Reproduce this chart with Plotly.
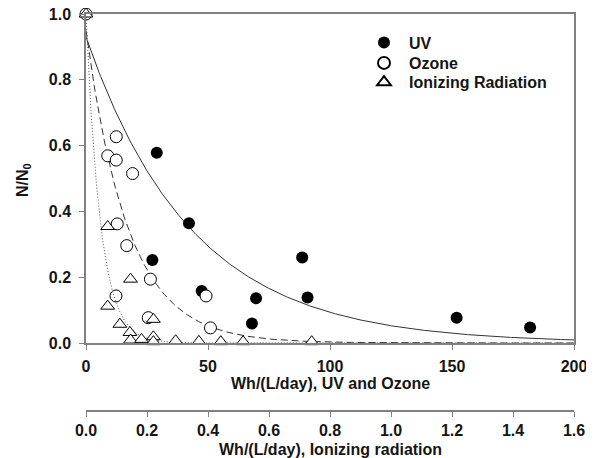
import numpy as np
import plotly.graph_objects as go

# ---- data ----
uv_x = [27.2, 29.0, 42.2, 47.4, 68.0, 69.7, 88.6, 90.8, 151.9, 182.0]
uv_y = [0.252, 0.578, 0.364, 0.158, 0.059, 0.136, 0.260, 0.138, 0.077, 0.047]

ozone_x = [0, 8.9, 12.4, 12.4, 19.1, 12.8, 16.7, 26.4, 12.3, 49.2, 25.5, 51.0]
ozone_y = [1.0, 0.569, 0.627, 0.556, 0.515, 0.362, 0.296, 0.194, 0.143, 0.143, 0.077, 0.046]

ion_x = [0, 0.071, 0.146, 0.071, 0.111, 0.144, 0.146, 0.182, 0.221, 0.221, 0.221,
         0.294, 0.370, 0.442, 0.515, 0.740]
ion_y = [1.0, 0.354, 0.194, 0.112, 0.057, 0.032, 0.009, 0.011, 0.072, 0.019, 0.004,
         0.007, 0.005, 0.004, 0.004, 0.004]

# fitted first-order decay curves  N/N0 = a*exp(-k*dose)
uv_fit = (0.93, 0.023)        # per Wh/(L/day)
ozone_fit = (0.95, 0.058)
ion_fit = (1.0, 21.25)        # per Wh/(L/day), ionizing axis

x_ticks_top = [0, 50, 100, 150, 200]
x_ticks_bot = [0.0, 0.2, 0.4, 0.6, 0.8, 1.0, 1.2, 1.4, 1.6]
y_ticks = [0.0, 0.2, 0.4, 0.6, 0.8, 1.0]

# ---- layout geometry (page has an 8px body margin) ----
OFF = 8
W, H = 594 - OFF, 458 - OFF
left_px, right_px = 86 - OFF, 574 - OFF
top_px, base_px, zero_px = 14 - OFF, 411 - OFF, 343 - OFF
plot_w, plot_h = right_px - left_px, base_px - top_px


def py(screen_y):
    return 1 - (screen_y - OFF - top_px) / float(plot_h)


def px(screen_x):
    return (screen_x - OFF - left_px) / float(plot_w)


y0 = (base_px - zero_px) / float(plot_h)

# ---- figure ----
fx = np.linspace(0, 200, 400)
fi = np.linspace(0, 1.6, 800)

fig = go.Figure()
fig.add_trace(go.Scatter(x=fx, y=uv_fit[0] * np.exp(-uv_fit[1] * fx), mode="lines",
                         line=dict(color="#333333", width=1), showlegend=False, hoverinfo="skip"))
fig.add_trace(go.Scatter(x=fx, y=ozone_fit[0] * np.exp(-ozone_fit[1] * fx), mode="lines",
                         line=dict(color="#333333", width=1, dash="7px,4px"), showlegend=False, hoverinfo="skip"))
fig.add_trace(go.Scatter(x=fi, y=ion_fit[0] * np.exp(-ion_fit[1] * fi), mode="lines", xaxis="x2",
                         line=dict(color="#555555", width=1, dash="1px,2px"), showlegend=False, hoverinfo="skip"))

fig.add_trace(go.Scatter(x=uv_x, y=uv_y, mode="markers", name="<b>UV</b>", cliponaxis=False,
                         legend="legend",
                         marker=dict(symbol="circle", size=12, color="black")))
fig.add_trace(go.Scatter(x=ozone_x, y=ozone_y, mode="markers", name="<b>Ozone</b>", cliponaxis=False,
                         legend="legend2",
                         marker=dict(symbol="circle", size=12, color="white",
                                     line=dict(color="black", width=1))))
fig.add_trace(go.Scatter(x=ion_x, y=ion_y, mode="markers", name="<b>Ionizing Radiation</b>", xaxis="x2",
                         cliponaxis=False, legend="legend3",
                         marker=dict(symbol="triangle-up", size=12, color="white",
                                     line=dict(color="black", width=1))))

FAM = "Liberation Sans, Arial, sans-serif"
TXT = "#151515"
tickfont = dict(family=FAM, size=16, color=TXT)
titlefont = dict(family=FAM, size=16, color=TXT)

common = dict(showgrid=False, zeroline=False, showline=True, linecolor="#808080", linewidth=1.5,
              ticks="outside", ticklen=5, tickcolor="#808080", tickfont=tickfont, automargin=False,
              ticklabeloverflow="allow")

leg_common = dict(xanchor="left", yanchor="middle", font=dict(family=FAM, size=16, color=TXT),
                  itemwidth=40, bgcolor="rgba(0,0,0,0)", itemsizing="constant", borderwidth=0)
leg_x = px(359)

fig.update_layout(
    width=W, height=H,
    margin=dict(l=left_px, r=W - right_px, t=top_px, b=H - base_px),
    paper_bgcolor="white", plot_bgcolor="white",
    font=dict(family=FAM),
    xaxis=dict(range=[0, 200], tickvals=x_ticks_top, ticktext=["<b>%d</b>" % v for v in x_ticks_top],
               anchor="y", mirror=True, ticklabelstandoff=3, **common),
    xaxis2=dict(range=[0, 1.6], tickvals=x_ticks_bot, ticktext=["<b>%.1f</b>" % v for v in x_ticks_bot],
                overlaying="x", anchor="free", position=0, side="bottom", ticklabelstandoff=0,
                **common),
    yaxis=dict(range=[0, 1.0], domain=[y0, 1], tickvals=y_ticks,
               ticktext=["<b>%.1f</b>" % v for v in y_ticks], mirror=True, ticklabelstandoff=5,
               **common),
    legend=dict(x=leg_x, y=py(42.7), **leg_common),
    legend2=dict(x=leg_x, y=py(63), **leg_common),
    legend3=dict(x=leg_x, y=py(82.3), **leg_common),
    annotations=[
        dict(text="<b>Wh/(L/day), UV and Ozone</b>", xref="paper", yref="paper", x=0.5, y=py(383),
             xanchor="center", yanchor="middle", showarrow=False, font=titlefont),
        dict(text="<b>Wh/(L/day), Ionizing radiation</b>", xref="paper", yref="paper", x=0.5, y=py(449),
             xanchor="center", yanchor="middle", showarrow=False, font=titlefont),
        dict(text="<b>N/N<sub>0</sub></b>", xref="paper", yref="paper", x=px(23), y=py(180),
             xanchor="center", yanchor="middle", showarrow=False, textangle=-90, font=titlefont),
    ],
)

fig.write_html("out.html")
